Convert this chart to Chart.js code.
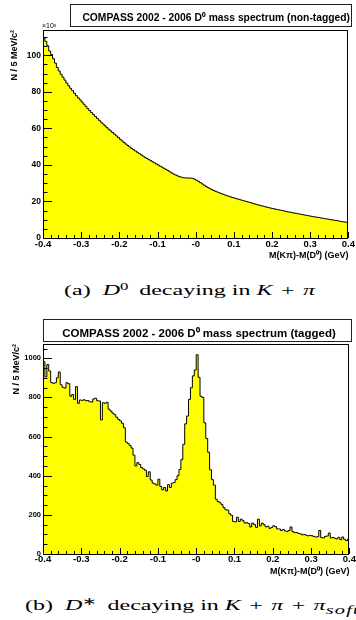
<!DOCTYPE html>
<html>
<head>
<meta charset="utf-8">
<script src="https://cdn.jsdelivr.net/npm/chart.js@4.4.0/dist/chart.umd.min.js"></script>
<style>
  html, body { margin: 0; padding: 0; background: #fff; width: 356px; height: 620px; overflow: hidden; }
  canvas { position: absolute; left: 0; }
  .cap { position: absolute; white-space: nowrap; font-family: "Liberation Serif", serif; font-size: 15px; line-height: 15px;
         transform: scaleX(1.6); transform-origin: 0 0; color: #000; }
  .cap sup { font-size: 70%; vertical-align: 0.45em; line-height: 0; }
  .cap sub { font-size: 85%; vertical-align: -0.3em; line-height: 0; font-style: italic; letter-spacing: 0.06em; }
  .cap .op { margin: 0 0.1em; }
</style>
</head>
<body>
<canvas id="nonTagged" width="356" height="262" style="top:0"></canvas>
<div class="cap" style="left:64px; top:283px">(a)&ensp;<i>D</i><sup>0</sup>&thinsp; decaying in <i>K</i> <span class="op">+</span> <i>π</i></div>
<canvas id="tagged" width="356" height="268" style="top:310px"></canvas>
<div class="cap" style="left:25px; top:598px">(b)&ensp;<i>D</i><sup>∗</sup>&thinsp; decaying in <i>K</i> <span class="op">+</span> <i>π</i> <span class="op">+</span> <i>π</i><sub>soft</sub></div>

<script>
// histogram binning: 5 MeV bins from -0.4 to 0.4 GeV
const binLow = -0.4;
const binWidth = 0.005;

const xTickLabels = ['-0.4', '-0.3', '-0.2', '-0.1', '-0', '0.1', '0.2', '0.3', '0.4'];
const nonTaggedYLabels = ['0', '20', '40', '60', '80', '100'];
const taggedYLabels = ['0', '200', '400', '600', '800', '1000'];

// entries per bin, in units of 10^3
const nonTaggedCounts = [
  109.5, 107.6, 105.2, 102.3, 100.4, 98.1, 95.7, 93.3, 91.4, 89.6, 88.0, 86.4, 84.8, 83.3, 81.9, 80.6, 79.2, 77.9, 76.7, 75.6,
  74.4, 73.2, 72.0, 70.8, 69.7, 68.6, 67.5, 66.5, 65.4, 64.4, 63.4, 62.4, 61.4, 60.4, 59.5, 58.6, 57.7, 56.8, 55.9, 55.0,
  54.0, 53.1, 52.2, 51.4, 50.6, 49.8, 49.0, 48.3, 47.6, 46.9, 46.2, 45.5, 44.8, 44.1, 43.5, 42.9, 42.3, 41.7, 41.1, 40.5,
  39.9, 39.3, 38.7, 38.1, 37.5, 36.9, 36.2, 35.6, 35.0, 34.5, 34.0, 33.6, 33.3, 33.0, 32.9, 32.8, 32.8, 32.8, 32.6, 32.2,
  31.6, 31.0, 30.3, 29.6, 28.9, 28.2, 27.6, 27.0, 26.5, 26.0, 25.5, 25.1, 24.7, 24.3, 23.9, 23.5, 23.1, 22.8, 22.4, 22.1,
  21.8, 21.5, 21.2, 20.9, 20.6, 20.3, 20.0, 19.7, 19.4, 19.1, 18.8, 18.5, 18.2, 17.9, 17.6, 17.4, 17.1, 16.8, 16.6, 16.3,
  16.1, 15.9, 15.6, 15.4, 15.2, 15.0, 14.8, 14.5, 14.3, 14.1, 13.9, 13.7, 13.5, 13.3, 13.1, 12.9, 12.7, 12.5, 12.3, 12.1,
  11.9, 11.7, 11.5, 11.4, 11.2, 11.0, 10.8, 10.6, 10.5, 10.3, 10.1, 9.9, 9.8, 9.6, 9.4, 9.2, 9.0, 8.9, 8.7, 8.5
];

const taggedCounts = [
  983, 905, 968, 935, 876, 872, 875, 900, 930, 865, 852, 848, 875, 870, 806, 815, 790, 855, 770, 787,
  785, 788, 783, 784, 778, 776, 792, 796, 783, 782, 685, 773, 770, 775, 740, 730, 720, 712, 699, 688,
  680, 668, 645, 572, 565, 555, 541, 505, 450, 467, 458, 442, 435, 428, 396, 420, 378, 362, 358, 352,
  382, 345, 328, 340, 322, 354, 340, 362, 365, 380, 400, 432, 482, 560, 665, 705, 790, 850, 910, 940,
  1018, 903, 806, 800, 670, 590, 520, 430, 380, 352, 280, 268, 262, 252, 237, 226, 224, 206, 198, 166,
  164, 188, 166, 178, 170, 158, 160, 155, 138, 158, 150, 136, 178, 144, 158, 150, 139, 142, 131, 136,
  144, 140, 128, 128, 120, 125, 118, 115, 120, 138, 115, 109, 110, 105, 103, 98, 100, 96, 93, 95,
  93, 90, 87, 88, 120, 84, 82, 90, 92, 107, 82, 85, 80, 77, 85, 73, 87, 75, 68, 76
];

Chart.defaults.font.family = '"Liberation Sans", Arial, sans-serif';
Chart.defaults.color = '#000';

function histPoints(counts) {
  const pts = counts.map((v, i) => ({ x: binLow + i * binWidth, y: v }));
  pts.push({ x: binLow + counts.length * binWidth, y: counts[counts.length - 1] });
  return pts;
}

// ROOT style frame, inner tick marks, title box
const rootFrame = {
  id: 'rootFrame',
  afterDatasetsDraw(chart, args, o) {
    const { ctx, chartArea: a, scales: { x, y } } = chart;
    ctx.save();
    ctx.strokeStyle = '#000';
    ctx.lineWidth = 1;
    ctx.beginPath();
    for (let v = -0.4; v <= 0.4001; v += 0.02) {
      const px = Math.round(x.getPixelForValue(v)) + 0.5;
      const major = Math.abs(v * 10 - Math.round(v * 10)) < 1e-6;
      ctx.moveTo(px, a.bottom);
      ctx.lineTo(px, a.bottom - (major ? 6 : 3));
    }
    for (let v = 0; v <= y.max; v += o.yMinor) {
      const py = Math.round(y.getPixelForValue(v)) + 0.5;
      const major = Math.abs(v / o.yMajor - Math.round(v / o.yMajor)) < 1e-6;
      ctx.moveTo(a.left, py);
      ctx.lineTo(a.left + (major ? 9 : 4.5), py);
    }
    ctx.stroke();
    ctx.strokeRect(Math.round(a.left) + 0.5, Math.round(a.top) + 0.5, Math.round(a.right - a.left) - 1, Math.round(a.bottom - a.top));

    // title box
    const b = o.box;
    ctx.fillStyle = '#fff';
    ctx.fillRect(b[0], b[1], b[2], b[3]);
    ctx.strokeStyle = '#222';
    ctx.strokeRect(b[0] + 0.5, b[1] + 0.5, b[2] - 1, b[3] - 1);
    ctx.fillStyle = '#000';
    ctx.font = 'bold ' + o.titleSize + 'px "Liberation Sans", Arial, sans-serif';
    ctx.textBaseline = 'alphabetic';
    ctx.textAlign = o.titleAlign;
    ctx.fillText(o.title, o.titleX, o.titleY);

    if (o.exponent) {
      ctx.font = '7px "Liberation Sans", Arial, sans-serif';
      ctx.textAlign = 'left';
      ctx.fillText(o.exponent, a.left - 1, a.top - 2);
    }
    ctx.restore();
  }
};

function makePanel(id, counts, cfg) {
  new Chart(document.getElementById(id), {
    type: 'line',
    data: {
      datasets: [{
        data: histPoints(counts),
        stepped: true,
        fill: 'origin',
        backgroundColor: '#ffff00',
        borderColor: '#000',
        borderWidth: 1,
        pointRadius: 0,
        tension: 0
      }]
    },
    options: {
      responsive: false,
      animation: false,
      events: [],
      layout: { padding: { left: 0, right: 4, top: cfg.padTop, bottom: 0 }, autoPadding: false },
      scales: {
        x: {
          type: 'linear', min: -0.4, max: 0.4,
          grid: { display: false, drawTicks: false },
          border: { display: false },
          ticks: {
            stepSize: 0.1, autoSkip: false, maxRotation: 0, padding: cfg.xPad,
            font: { size: 9.5, weight: 'bold' },
            callback: v => xTickLabels[Math.round((v - binLow) / 0.1)]
          },
          title: {
            display: true, text: 'M(Kπ)-M(D⁰) (GeV)', align: 'end',
            font: { size: 9, weight: 'bold' }, padding: { top: 0, bottom: 1 }
          },
          afterFit: s => { s.height = 24; }
        },
        y: {
          type: 'linear', min: 0, max: cfg.yMax,
          grid: { display: false, drawTicks: false },
          border: { display: false },
          ticks: {
            stepSize: cfg.yMajor, includeBounds: false, padding: 2,
            font: { size: cfg.yFont, weight: 'bold' },
            callback: v => cfg.yLabels[Math.round(v / cfg.yMajor)]
          },
          title: {
            display: true, text: 'N / 5 MeV/c²', align: 'end',
            font: { size: 9, weight: 'bold' }, padding: { top: cfg.yTitlePad }
          },
          afterFit: s => { s.width = 43; }
        }
      },
      plugins: {
        legend: { display: false },
        tooltip: { enabled: false },
        rootFrame: cfg.frame
      }
    },
    plugins: [rootFrame]
  });
}

makePanel('nonTagged', nonTaggedCounts, {
  padTop: 30, yMax: 113.8, yMajor: 20, yLabels: nonTaggedYLabels, yFont: 8.5, yTitlePad: 9.5, xPad: 1,
  frame: {
    yMajor: 20, yMinor: 5, box: [70, 4, 282, 23],
    title: 'COMPASS 2002 - 2006 D⁰ mass spectrum (non-tagged)', titleSize: 10.3,
    titleAlign: 'right', titleX: 350, titleY: 20.5, exponent: '×10³'
  }
});

makePanel('tagged', taggedCounts, {
  padTop: 34, yMax: 1073, yMajor: 200, yLabels: taggedYLabels, yFont: 7.5, yTitlePad: 11, xPad: 0,
  frame: {
    yMajor: 200, yMinor: 50, box: [43, 9, 309, 23],
    title: 'COMPASS 2002 - 2006 D⁰ mass spectrum (tagged)', titleSize: 11.5,
    titleAlign: 'center', titleX: 199, titleY: 27.3, exponent: null
  }
});
</script>
</body>
</html>
